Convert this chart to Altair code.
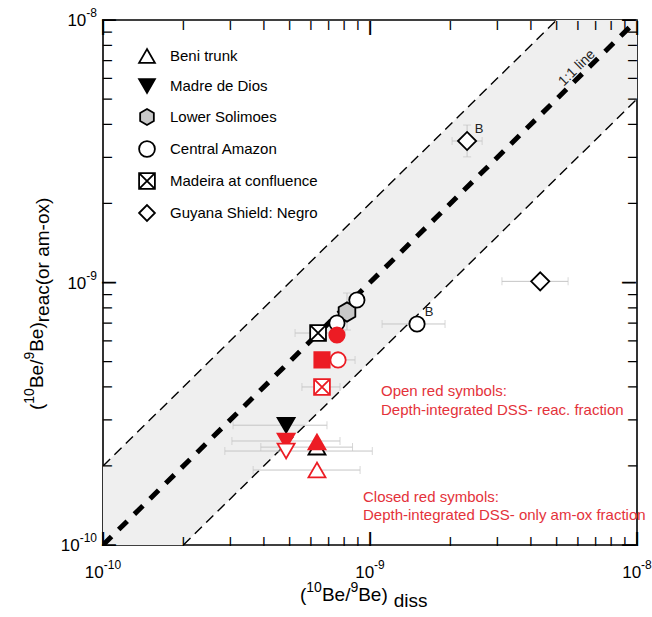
import altair as alt
import pandas as pd

W, H = 534, 525
FONT = "Liberation Sans"
RED = "#ec1c24"
RED_TXT = "#e4323a"
BAR_GREY = "#c6c6c6"
BAND_GREY = "#efefef"

# ---------------- data ----------------
SITES = ["Beni trunk", "Madre de Dios", "Lower Solimoes", "Central Amazon",
         "Madeira at confluence", "Guyana Shield: Negro"]

# black symbols
blk_site = ["Beni trunk", "Madre de Dios", "Lower Solimoes", "Central Amazon",
            "Central Amazon", "Central Amazon", "Madeira at confluence",
            "Guyana Shield: Negro", "Guyana Shield: Negro"]
blk_diss = [6.33e-10, 4.85e-10, 8.20e-10, 7.52e-10, 8.93e-10, 1.50e-9,
            6.39e-10, 2.31e-9, 4.34e-9]
blk_reac = [2.36e-10, 2.86e-10, 7.72e-10, 7.01e-10, 8.58e-10, 6.95e-10,
            6.42e-10, 3.46e-9, 1.01e-9]
blk_note = ["", "", "", "", "", "B", "", "B", ""]

# red symbols (depth-integrated DSS): closed = am-ox, open = reac.
red_site = ["Beni trunk", "Madre de Dios", "Central Amazon", "Madeira at confluence",
            "Madre de Dios", "Central Amazon", "Madeira at confluence", "Beni trunk"]
red_kind = ["closed", "closed", "closed", "closed",
            "open", "open", "open", "open"]
red_diss = [6.33e-10, 4.85e-10, 7.52e-10, 6.61e-10,
            4.85e-10, 7.59e-10, 6.61e-10, 6.33e-10]
red_reac = [2.47e-10, 2.49e-10, 6.31e-10, 5.07e-10,
            2.28e-10, 5.07e-10, 4.00e-10, 1.93e-10]

# error bars: centre, x range, y range (None = no bar)
eb_diss = [4.85e-10, 4.85e-10, 4.85e-10, 6.33e-10, 6.33e-10, 6.39e-10,
           7.59e-10, 6.61e-10, 8.20e-10, 1.50e-9, 2.31e-9, 4.34e-9]
eb_reac = [2.86e-10, 2.49e-10, 2.28e-10, 2.36e-10, 1.93e-10, 6.42e-10,
           5.07e-10, 4.00e-10, 7.72e-10, 6.95e-10, 3.46e-9, 1.01e-9]
eb_xlo = [3.07e-10, 3.04e-10, 2.86e-10, 3.90e-10, 3.65e-10, 5.24e-10,
          6.60e-10, 5.56e-10, None, 1.11e-9, 2.03e-9, 3.12e-9]
eb_xhi = [6.90e-10, 7.72e-10, 1.02e-9, 8.60e-10, 9.18e-10, 8.06e-10,
          8.79e-10, 7.72e-10, None, 1.91e-9, 2.63e-9, 5.52e-9]
eb_ylo = [None, None, None, None, None, None,
          None, None, 6.59e-10, None, 3.01e-9, None]
eb_yhi = [None, None, None, None, None, None,
          None, None, 9.12e-10, None, 3.98e-9, None]

ENVELOPE = 2.0                      # factor-of-two band around the 1:1 line
DECADES = [1e-10, 1e-9, 1e-8]
EXPONENTS = ["-10", "-9", "-8"]
MINOR_STEPS = [2, 3, 4, 5, 6, 7, 8, 9]

# ---------------- symbol styles ----------------
PATH_HEX = "M0,-1L0.866,-0.5L0.866,0.5L0,1L-0.866,0.5L-0.866,-0.5Z"
PATH_XSQ = "M-1,-1L1,-1L1,1L-1,1Z M-1,-1L1,1 M1,-1L-1,1"
SHAPE = {"Beni trunk": "triangle-up", "Madre de Dios": "triangle-down",
         "Lower Solimoes": PATH_HEX, "Central Amazon": "circle",
         "Madeira at confluence": PATH_XSQ, "Guyana Shield: Negro": "diamond"}
FILL = {"Beni trunk": "white", "Madre de Dios": "black",
        "Lower Solimoes": "#c8c8c8", "Central Amazon": "white",
        "Madeira at confluence": "white", "Guyana Shield: Negro": "white"}
SIZE = {"triangle-up": 290, "triangle-down": 290, PATH_HEX: 370,
        "circle": 235, PATH_XSQ: 250, "diamond": 330, "square": 235}

blk = pd.DataFrame({"site": blk_site, "diss": blk_diss, "reac": blk_reac,
                    "note": blk_note})
blk["sz"] = [SIZE[SHAPE[s]] for s in blk["site"]]

red = pd.DataFrame({"site": red_site, "kind": red_kind,
                    "diss": red_diss, "reac": red_reac})
red["shp"] = [("square" if (s == "Madeira at confluence" and k == "closed") else SHAPE[s])
              for s, k in zip(red["site"], red["kind"])]
red["fc"] = [RED if k == "closed" else "white" for k in red["kind"]]
red["sz"] = [SIZE[s] for s in red["shp"]]
red = pd.concat([red[red.kind == "closed"], red[red.kind == "open"]])

eb = pd.DataFrame({"diss": eb_diss, "reac": eb_reac, "xlo": eb_xlo,
                   "xhi": eb_xhi, "ylo": eb_ylo, "yhi": eb_yhi})
hbar = eb.dropna(subset=["xlo"])
vbar = eb.dropna(subset=["ylo"])
hcap = pd.concat([hbar[["xlo", "reac"]].rename(columns={"xlo": "cx"}),
                  hbar[["xhi", "reac"]].rename(columns={"xhi": "cx"})])
vcap = pd.concat([vbar[["diss", "ylo"]].rename(columns={"ylo": "cy"}),
                  vbar[["diss", "yhi"]].rename(columns={"yhi": "cy"})])

lo, hi = DECADES[0], DECADES[-1]
one2one = pd.DataFrame({"diss": [lo, hi], "reac": [lo, hi]})
upper = pd.DataFrame({"diss": [lo, hi / ENVELOPE], "reac": [lo * ENVELOPE, hi]})
lower = pd.DataFrame({"diss": [lo * ENVELOPE, hi], "reac": [lo, hi / ENVELOPE]})
band = pd.DataFrame({"diss": [lo, hi], "b0": [lo / ENVELOPE, hi / ENVELOPE],
                     "b1": [lo * ENVELOPE, hi * ENVELOPE]})

major = pd.DataFrame({"v": DECADES, "t": ["|"] * len(DECADES)})
minor = pd.DataFrame({"v": [m * d for d in DECADES[:-1] for m in MINOR_STEPS]})
minor["t"] = "|"


def xs(field):
    return alt.X(field, type="quantitative",
                 scale=alt.Scale(type="log", domain=[lo, hi], nice=False), axis=None)


def ys(field):
    return alt.Y(field, type="quantitative",
                 scale=alt.Scale(type="log", domain=[lo, hi], nice=False), axis=None)


layers = []

# shaded factor-of-two envelope
layers.append(alt.Chart(band).mark_area(color=BAND_GREY, clip=True).encode(
    x=xs("diss"), y=ys("b0"), y2="b1"))

# envelope and 1:1 lines
for d in (upper, lower):
    layers.append(alt.Chart(d).mark_line(color="black", strokeWidth=1.4,
                                         strokeDash=[10, 6], clip=True).encode(
        x=xs("diss"), y=ys("reac")))
layers.append(alt.Chart(one2one).mark_line(color="black", strokeWidth=5,
                                           strokeDash=[12, 10], strokeCap="butt",
                                           clip=True).encode(
    x=xs("diss"), y=ys("reac")))

# inward frame ticks, drawn as bar glyphs half a tick length inside each edge
for data, L in ((major, 14), (minor, 9)):
    fs = L * 1.08
    base = dict(font=FONT, fontSize=fs, color="black", align="center",
                baseline="middle", fontWeight="bold")
    layers.append(alt.Chart(data).mark_text(**base).encode(
        x=xs("v"), y=alt.value(H - L / 2), text="t:N"))
    layers.append(alt.Chart(data).mark_text(**base).encode(
        x=xs("v"), y=alt.value(L / 2), text="t:N"))
    layers.append(alt.Chart(data).mark_text(angle=90, **base).encode(
        y=ys("v"), x=alt.value(L / 2), text="t:N"))
    layers.append(alt.Chart(data).mark_text(angle=90, **base).encode(
        y=ys("v"), x=alt.value(W - L / 2), text="t:N"))

# error bars
layers.append(alt.Chart(hbar).mark_rule(color=BAR_GREY, strokeWidth=1).encode(
    x=xs("xlo"), x2="xhi", y=ys("reac")))
layers.append(alt.Chart(hcap).mark_tick(color=BAR_GREY, thickness=1, size=8,
                                        orient="vertical").encode(
    x=xs("cx"), y=ys("reac")))
layers.append(alt.Chart(vbar).mark_rule(color=BAR_GREY, strokeWidth=1).encode(
    x=xs("diss"), y=ys("ylo"), y2="yhi"))
layers.append(alt.Chart(vcap).mark_tick(color=BAR_GREY, thickness=1, size=8,
                                        orient="horizontal").encode(
    x=xs("diss"), y=ys("cy")))

# black symbols, with legend
legend = alt.Legend(title=None, orient="none", legendX=35, legendY=27, padding=0,
                    symbolSize=250, symbolStrokeWidth=1.8,
                    symbolStrokeColor="black", labelFont=FONT, labelFontSize=15,
                    labelColor="black", labelOffset=14, rowPadding=8)
layers.append(alt.Chart(blk).mark_point(strokeWidth=1.8, opacity=1,
                                        fillOpacity=1).encode(
    x=xs("diss"), y=ys("reac"),
    shape=alt.Shape("site:N", scale=alt.Scale(domain=SITES,
                                              range=[SHAPE[s] for s in SITES]),
                    legend=legend),
    fill=alt.Fill("site:N", scale=alt.Scale(domain=SITES,
                                            range=[FILL[s] for s in SITES]),
                  legend=legend),
    stroke=alt.Stroke("site:N", scale=alt.Scale(domain=SITES,
                                                range=["black"] * len(SITES)),
                      legend=legend),
    size=alt.Size("sz:Q", scale=None)))

# red symbols
layers.append(alt.Chart(red).mark_point(strokeWidth=1.8, opacity=1,
                                        fillOpacity=1).encode(
    x=xs("diss"), y=ys("reac"),
    shape=alt.Shape("shp:N", scale=None, legend=None),
    fill=alt.Fill("fc:N", scale=None, legend=None),
    stroke=alt.value(RED),
    size=alt.Size("sz:Q", scale=None)))

# "B" sample notes
layers.append(alt.Chart(blk[blk.note != ""]).mark_text(
    font=FONT, fontSize=13, dx=12, dy=-12, color="#222").encode(
    x=xs("diss"), y=ys("reac"), text="note:N"))

# 1:1 line label
layers.append(alt.Chart(pd.DataFrame({"t": ["1:1 line"]})).mark_text(
    font=FONT, fontSize=14, angle=315.5, color="#222").encode(
    x=alt.value(474), y=alt.value(48), text="t:N"))

# red annotations
notes = [("Open red symbols:", 278, 376),
         ("Depth-integrated DSS- reac. fraction", 278, 395),
         ("Closed red symbols:", 260, 482),
         ("Depth-integrated DSS- only am-ox fraction", 260, 500)]
for t, px, py in notes:
    layers.append(alt.Chart(pd.DataFrame({"t": [t]})).mark_text(
        font=FONT, fontSize=15, align="left", baseline="alphabetic",
        color=RED_TXT).encode(x=alt.value(px), y=alt.value(py), text="t:N"))

# tick labels: "10" with a superscript exponent
AW = {"(": .333, ")": .333, "0": .556, "1": .556, "8": .556, "9": .556,
      "-": .333, "B": .667, "e": .556, "/": .278, "d": .556, "i": .222,
      "s": .5, "r": .333, "a": .556, "c": .5, "o": .556, " ": .278,
      "m": .833, "x": .5}


def tw(text, size):
    return sum(AW.get(c, .556) for c in text) * size


BASE_FS, EXP_FS = 17, 12
for dec, ex in zip(DECADES, EXPONENTS):
    d = pd.DataFrame({"v": [dec], "b": ["10"], "e": [ex]})
    off = (tw("10", BASE_FS) - tw(ex, EXP_FS)) / 2
    layers.append(alt.Chart(d).mark_text(font=FONT, fontSize=BASE_FS, align="right",
                                         baseline="alphabetic", dx=off).encode(
        x=xs("v"), y=alt.value(H + 33), text="b:N"))
    layers.append(alt.Chart(d).mark_text(font=FONT, fontSize=EXP_FS, align="left",
                                         baseline="alphabetic", dx=off).encode(
        x=xs("v"), y=alt.value(H + 24), text="e:N"))
    layers.append(alt.Chart(d).mark_text(font=FONT, fontSize=EXP_FS, align="right",
                                         baseline="alphabetic", dy=-3).encode(
        x=alt.value(-6), y=ys("v"), text="e:N"))
    layers.append(alt.Chart(d).mark_text(font=FONT, fontSize=BASE_FS, align="right",
                                         baseline="alphabetic", dy=6).encode(
        x=alt.value(-6 - tw(ex, EXP_FS)), y=ys("v"), text="b:N"))

# axis titles built from pieces (text, font size, baseline shift, gap before)
TF, SF, BF = 19, 14, 19
x_pieces = [("(", TF, 0, 0), ("10", SF, -9, 0), ("Be/", TF, 0, 0),
            ("9", SF, -9, 0), ("Be)", TF, 0, 0), ("diss", BF, 6, 6)]
cx = 197
for t, fs, sh, gap in x_pieces:
    cx += gap
    layers.append(alt.Chart(pd.DataFrame({"t": [t]})).mark_text(
        font=FONT, fontSize=fs, align="left", baseline="alphabetic").encode(
        x=alt.value(cx), y=alt.value(H + 56 + sh), text="t:N"))
    cx += tw(t, fs)

y_pieces = [("(", TF, 0, 0), ("10", SF, -9, 0), ("Be/", TF, 0, 0),
            ("9", SF, -9, 0), ("Be)", TF, 0, 0), ("reac(or am-ox)", BF, 6, 0)]
cy = 390
for t, fs, sh, gap in y_pieces:
    cy -= gap
    layers.append(alt.Chart(pd.DataFrame({"t": [t]})).mark_text(
        font=FONT, fontSize=fs, align="left", baseline="alphabetic",
        angle=270).encode(
        x=alt.value(-60 + sh), y=alt.value(cy), text="t:N"))
    cy -= tw(t, fs)

chart = alt.layer(*layers).resolve_scale(
    shape="independent", fill="independent", stroke="independent",
    size="independent"
).properties(
    width=W, height=H,
    autosize=alt.AutoSizeParams(type="none"),
    padding={"left": 103, "top": 20, "right": 15, "bottom": 72},
).configure_view(stroke="black", strokeWidth=1.6)

chart.save("out.html", embed_options={"renderer": "svg", "actions": False})
